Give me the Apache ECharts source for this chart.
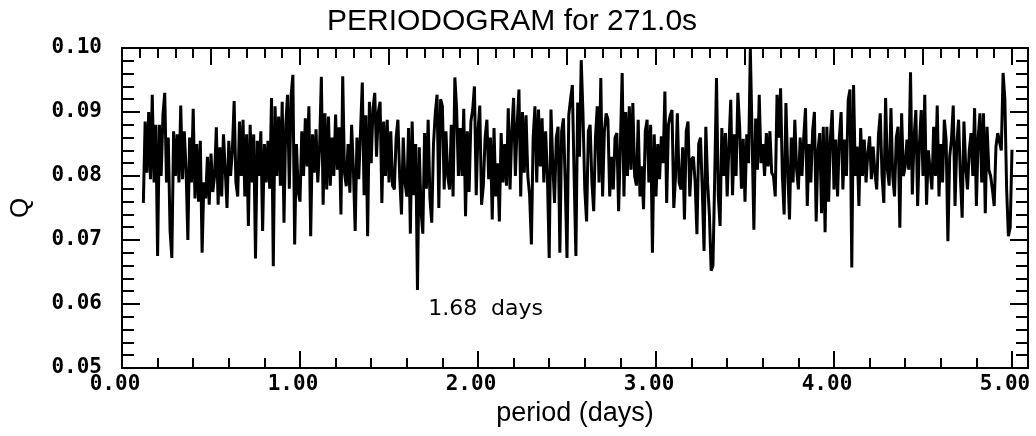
<!DOCTYPE html>
<html>
<head>
<meta charset="utf-8">
<script src="https://cdn.jsdelivr.net/npm/echarts@6/dist/echarts.min.js"></script>
<style>
  html, body { margin: 0; padding: 0; background: #fff; }
  #main { width: 1036px; height: 436px; }
</style>
</head>
<body>
<div id="main"></div>
<script>
// periodogram Q values, one every 0.01 day
var step = 0.01;

var start0 = 0.12;
var q0 = [
  0.0758, 0.0885, 0.0805, 0.0900, 0.0795, 0.0927, 0.0790, 0.0880,
  0.0675, 0.0880, 0.0800, 0.0895, 0.0930, 0.0790, 0.0860, 0.0715, 0.0672, 0.0870,
  0.0800, 0.0865, 0.0790, 0.0910, 0.0795, 0.0870, 0.0810, 0.0700, 0.0860, 0.0790,
  0.0905, 0.0765, 0.0850, 0.0760, 0.0855, 0.0680, 0.0790, 0.0765, 0.0830, 0.0755,
  0.0835, 0.0775, 0.0800, 0.0876, 0.0755, 0.0845, 0.0768, 0.0865, 0.0810, 0.0750,
  0.0855, 0.0800, 0.0840, 0.0917, 0.0790, 0.0768, 0.0885, 0.0800, 0.0888, 0.0768,
  0.0865, 0.0722, 0.0880, 0.0790, 0.0865, 0.0671, 0.0855, 0.0800, 0.0870, 0.0714,
  0.0850, 0.0790, 0.0855, 0.0780, 0.0922, 0.0659, 0.0909, 0.0800, 0.0893, 0.0785,
  0.0916, 0.0727, 0.0880, 0.0927, 0.0780, 0.0925, 0.0958, 0.0693, 0.0850, 0.0775
];

var start1 = 1.00;
var q1 = [
  0.0760, 0.0870, 0.0800, 0.0890, 0.0815, 0.0909, 0.0706, 0.0865, 0.0805, 0.0873,
  0.0790, 0.0845, 0.0955, 0.0755, 0.0898, 0.0779, 0.0893, 0.0785, 0.0860, 0.0800,
  0.0896, 0.0810, 0.0876, 0.0740, 0.0956, 0.0805, 0.0784, 0.0850, 0.0774, 0.0880,
  0.0810, 0.0714, 0.0860, 0.0795, 0.0870, 0.0946, 0.0770, 0.0895, 0.0706, 0.0916,
  0.0820, 0.0905, 0.0930, 0.0830, 0.0900, 0.0916, 0.0758, 0.0885, 0.0800, 0.0888,
  0.0790, 0.0870, 0.0785, 0.0779, 0.0860, 0.0888, 0.0800, 0.0740, 0.0860, 0.0790,
  0.0768, 0.0875, 0.0710, 0.0885, 0.0770, 0.0850, 0.0622, 0.0845, 0.0745, 0.0710,
  0.0867, 0.0780, 0.0888, 0.0765, 0.0727, 0.0850, 0.0898, 0.0927, 0.0750, 0.0920,
  0.0909, 0.0779, 0.0870, 0.0800, 0.0779, 0.0880, 0.0768, 0.0954, 0.0905, 0.0800,
  0.0875, 0.0800, 0.0905, 0.0737, 0.0870, 0.0775, 0.0885, 0.0903, 0.0940, 0.0770
];

var start2 = 2.00;
var q2 = [
  0.0870, 0.0910, 0.0755, 0.0785, 0.0860, 0.0888, 0.0795, 0.0860, 0.0732, 0.0875,
  0.0768, 0.0820, 0.0729, 0.0867, 0.0790, 0.0850, 0.0785, 0.0906, 0.0779, 0.0870,
  0.0922, 0.0800, 0.0880, 0.0935, 0.0768, 0.0900, 0.0805, 0.0895, 0.0800, 0.0770,
  0.0693, 0.0860, 0.0909, 0.0790, 0.0904, 0.0815, 0.0890, 0.0790, 0.0870, 0.0800,
  0.0672, 0.0904, 0.0820, 0.0758, 0.0860, 0.0877, 0.0680, 0.0870, 0.0890, 0.0790,
  0.0672, 0.0895, 0.0920, 0.0942, 0.0800, 0.0675, 0.0915, 0.0830, 0.0981, 0.0895,
  0.0779, 0.0729, 0.0870, 0.0880, 0.0790, 0.0745, 0.0860, 0.0909, 0.0790, 0.0953,
  0.0768, 0.0870, 0.0898, 0.0888, 0.0768, 0.0830, 0.0779, 0.0860, 0.0867, 0.0745,
  0.0850, 0.0961, 0.0768, 0.0900, 0.0800, 0.0909, 0.0810, 0.0914, 0.0800, 0.0785,
  0.0888, 0.0768, 0.0815, 0.0748, 0.0870, 0.0888, 0.0790, 0.0880, 0.0680, 0.0865
];

var start3 = 3.00;
var q3 = [
  0.0768, 0.0850, 0.0795, 0.0862, 0.0820, 0.0932, 0.0758, 0.0880, 0.0895, 0.0903,
  0.0750, 0.0800, 0.0898, 0.0790, 0.0779, 0.0845, 0.0732, 0.0870, 0.0885, 0.0768,
  0.0826, 0.0830, 0.0790, 0.0709, 0.0850, 0.0860, 0.0780, 0.0683, 0.0877, 0.0790,
  0.0740, 0.0652, 0.0660, 0.0800, 0.0953, 0.0770, 0.0722, 0.0875, 0.0800, 0.0867,
  0.0768, 0.0850, 0.0919, 0.0770, 0.0865, 0.0800, 0.0930, 0.0877, 0.0780, 0.0858,
  0.0760, 0.0865, 0.0820, 0.0999, 0.0860, 0.0716, 0.0890, 0.0810, 0.0927, 0.0820,
  0.0850, 0.0800, 0.0867, 0.0815, 0.0870, 0.0805, 0.0800, 0.0768, 0.0927, 0.0860,
  0.0937, 0.0800, 0.0740, 0.0914, 0.0810, 0.0732, 0.0860, 0.0790, 0.0888, 0.0810,
  0.0779, 0.0860, 0.0800, 0.0860, 0.0906, 0.0753, 0.0850, 0.0790, 0.0870, 0.0900,
  0.0729, 0.0840, 0.0867, 0.0742, 0.0877, 0.0712, 0.0877, 0.0760, 0.0860, 0.0903
];

var start4 = 4.00;
var q4 = [
  0.0779, 0.0857, 0.0768, 0.0860, 0.0900, 0.0779, 0.0857, 0.0800, 0.0919, 0.0935,
  0.0657, 0.0942, 0.0800, 0.0846, 0.0753, 0.0875, 0.0800, 0.0857, 0.0790, 0.0835,
  0.0862, 0.0795, 0.0846, 0.0805, 0.0779, 0.0865, 0.0898, 0.0800, 0.0758, 0.0922,
  0.0810, 0.0785, 0.0906, 0.0800, 0.0768, 0.0860, 0.0877, 0.0719, 0.0898, 0.0800,
  0.0815, 0.0857, 0.0810, 0.0962, 0.0771, 0.0860, 0.0903, 0.0753, 0.0850, 0.0903,
  0.0800, 0.0927, 0.0755, 0.0840, 0.0810, 0.0779, 0.0877, 0.0800, 0.0910, 0.0768,
  0.0850, 0.0790, 0.0888, 0.0857, 0.0698, 0.0830, 0.0857, 0.0910, 0.0753, 0.0850,
  0.0888, 0.0800, 0.0735, 0.0885, 0.0815, 0.0779, 0.0840, 0.0867, 0.0800, 0.0906,
  0.0753, 0.0860, 0.0898, 0.0790, 0.0898, 0.0742, 0.0877, 0.0810, 0.0800, 0.0779,
  0.0753, 0.0846, 0.0867, 0.0870, 0.0840, 0.0961, 0.0920, 0.0779, 0.0706, 0.0720,
  0.0841
];

var xTicks = [0, 5.09];     // axis range of the period axis (frame runs a bit past 5.00)
var yTicks = [0.05, 0.10];
var annotText = '1.68  days';
var annotAt = [1.72, 0.0591];

function block(start, values) {
  return values.map(function (v, i) {
    return [+(start + i * step).toFixed(2), v];
  });
}

var data = [].concat(
  block(start0, q0), block(start1, q1), block(start2, q2),
  block(start3, q3), block(start4, q4)
);

var myChart = echarts.init(document.getElementById('main'));

var tickFont = {
  color: '#000',
  fontFamily: 'DejaVu Sans Mono',
  fontWeight: 'bold',
  fontSize: 21
};
var frameLine = { show: true, onZero: false, lineStyle: { color: '#000', width: 2 } };
var noLine = { show: false, onZero: false };

function xAx(pos, interval, len, withLabel, withLine) {
  return {
    type: 'value', position: pos, min: xTicks[0], max: xTicks[1], interval: interval,
    axisLine: withLine ? frameLine : noLine,
    axisTick: { show: true, inside: true, length: len, lineStyle: { color: '#000', width: 2 } },
    axisLabel: withLabel ? Object.assign({
      show: true, margin: 6, padding: [0, 14, 0, 0], showMaxLabel: false,
      formatter: function (v) {
        return Math.abs(v - Math.round(v)) < 1e-6 ? v.toFixed(2) : '';
      }
    }, tickFont) : { show: false },
    splitLine: { show: false }
  };
}

function yAx(pos, interval, len, withLabel, withLine) {
  return {
    type: 'value', position: pos, min: yTicks[0], max: yTicks[1], interval: interval,
    axisLine: withLine ? frameLine : noLine,
    axisTick: { show: true, inside: true, length: len, lineStyle: { color: '#000', width: 2 } },
    axisLabel: withLabel ? Object.assign({
      show: true, margin: 20,
      formatter: function (v) { return v.toFixed(2); }
    }, tickFont) : { show: false },
    splitLine: { show: false }
  };
}

var option = {
  backgroundColor: '#fff',
  animation: false,
  title: {
    text: 'PERIODOGRAM for 271.0s',
    left: 322, top: 2,
    textStyle: { color: '#000', fontFamily: 'Liberation Sans', fontWeight: 'normal', fontSize: 30 }
  },
  grid: { left: 121, right: 8, top: 48, bottom: 68 },
  xAxis: [
    Object.assign(xAx('bottom', 1, 17, true, true), {
      name: 'period (days)', nameLocation: 'middle', nameGap: 30,
      nameTextStyle: { color: '#000', fontFamily: 'Liberation Sans', fontSize: 27 }
    }),
    xAx('bottom', 0.2, 10, false, false),
    xAx('top', 0.5, 17, false, true),
    xAx('top', 0.1, 10, false, false)
  ],
  yAxis: [
    Object.assign(yAx('left', 0.01, 18, true, true), {
      name: 'Q', nameLocation: 'middle', nameGap: 88,
      nameTextStyle: { color: '#000', fontFamily: 'Liberation Sans', fontSize: 26 }
    }),
    yAx('left', 0.002, 12, false, false),
    yAx('right', 0.01, 18, false, true),
    yAx('right', 0.002, 12, false, false)
  ],
  series: [{
    name: 'Q',
    type: 'line',
    xAxisIndex: 0,
    yAxisIndex: 0,
    data: data,
    showSymbol: false,
    symbol: 'none',
    sampling: false,
    lineStyle: { color: '#000', width: 3 },
    markPoint: {
      symbol: 'circle', symbolSize: 0, animation: false,
      data: [{ coord: annotAt }],
      label: {
        show: true, position: 'right', distance: 0,
        formatter: annotText,
        color: '#000', fontFamily: 'DejaVu Sans', fontSize: 22
      }
    }
  }]
};

myChart.setOption(option);
</script>
</body>
</html>
